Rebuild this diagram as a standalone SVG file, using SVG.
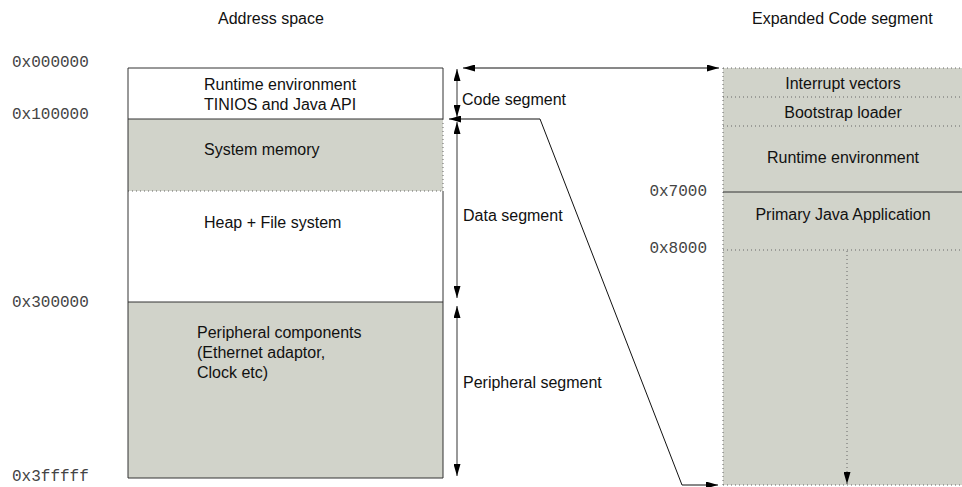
<svg xmlns="http://www.w3.org/2000/svg" width="962" height="487" viewBox="0 0 962 487">
  <style>
    .t { font-family: "Liberation Sans", Arial, sans-serif; font-size: 16px; fill: #111; }
    .m { font-family: "Liberation Mono", "Courier New", monospace; font-size: 16px; fill: #444; }
    .fill { fill: #d1d3ca; }
    .solid { stroke: #333; stroke-width: 1; fill: none; }
    .dot { stroke: #666; stroke-width: 1; stroke-dasharray: 1 3; fill: none; }
    .dim { stroke: #555; stroke-width: 1.2; fill: none; }
    .link { stroke: #111; stroke-width: 1; fill: none; }
  </style>
  <defs>
    <marker id="ah" viewBox="0 0 12 7" refX="12" refY="3.5" markerWidth="12" markerHeight="7" markerUnits="userSpaceOnUse" orient="auto-start-reverse">
      <path d="M0,0 L12,3.5 L0,7 Z" fill="#000"/>
    </marker>
  </defs>

  <!-- titles -->
  <text class="t" x="218" y="24">Address space</text>
  <text class="t" x="752" y="24">Expanded Code segment</text>

  <!-- address labels -->
  <g id="addresses">
    <text class="m" x="12" y="67">0x000000</text>
    <text class="m" x="12" y="119">0x100000</text>
    <text class="m" x="12" y="307">0x300000</text>
    <text class="m" x="12" y="481">0x3fffff</text>
    <text class="m" x="707" y="196" text-anchor="end">0x7000</text>
    <text class="m" x="707" y="253" text-anchor="end">0x8000</text>
  </g>

  <!-- address space column -->
  <g id="code-region">
    <rect x="128" y="68" width="315" height="51" fill="#fff"/>
    <text class="t" x="204" y="90">Runtime environment</text>
    <text class="t" x="204" y="110">TINIOS and Java API</text>
  </g>
  <g id="system-memory">
    <rect class="fill" x="128" y="119" width="315" height="72"/>
    <text class="t" x="204" y="155">System memory</text>
  </g>
  <g id="heap">
    <rect x="128" y="191" width="315" height="111" fill="#fff"/>
    <line class="dot" x1="128" y1="191" x2="443" y2="191"/>
    <text class="t" x="204" y="228">Heap + File system</text>
  </g>
  <g id="peripherals">
    <rect class="fill" x="128" y="302" width="315" height="176"/>
    <text class="t" x="197" y="338">Peripheral components</text>
    <text class="t" x="197" y="358">(Ethernet adaptor,</text>
    <text class="t" x="197" y="378">Clock etc)</text>
  </g>
  <g id="address-frame">
    <line class="solid" x1="128" y1="68" x2="443" y2="68"/>
    <line class="solid" x1="128" y1="68" x2="128" y2="478"/>
    <line class="solid" x1="128" y1="478" x2="443" y2="478"/>
    <line class="solid" x1="443" y1="68" x2="443" y2="119"/>
    <line class="dot" x1="443" y1="119" x2="443" y2="191"/>
    <line class="solid" x1="443" y1="191" x2="443" y2="478"/>
    <line class="solid" x1="128" y1="119" x2="443" y2="119"/>
    <line class="solid" x1="128" y1="302" x2="443" y2="302"/>
  </g>

  <!-- expanded code segment column -->
  <g id="expanded">
    <rect class="fill" x="723" y="68" width="239" height="417"/>
    <line class="dot" x1="723" y1="68" x2="962" y2="68"/>
    <line class="dot" x1="723" y1="68" x2="723" y2="485"/>
    <line class="dot" x1="723" y1="97" x2="962" y2="97"/>
    <line class="dot" x1="723" y1="126" x2="962" y2="126"/>
    <line class="solid" x1="723" y1="192" x2="962" y2="192" stroke="#111"/>
    <line class="dot" x1="723" y1="250" x2="962" y2="250"/>
    <line class="dot" x1="723" y1="485" x2="962" y2="485"/>
    <text class="t" x="843" y="89" text-anchor="middle">Interrupt vectors</text>
    <text class="t" x="843" y="118" text-anchor="middle">Bootstrap loader</text>
    <text class="t" x="843" y="163" text-anchor="middle">Runtime environment</text>
    <text class="t" x="843" y="220" text-anchor="middle">Primary Java Application</text>
  </g>

  <!-- connectors -->
  <g id="connectors">
    <line class="dim" x1="457" y1="69" x2="457" y2="117" marker-start="url(#ah)" marker-end="url(#ah)"/>
    <line class="dim" x1="457" y1="122" x2="457" y2="298" marker-start="url(#ah)" marker-end="url(#ah)"/>
    <line class="dim" x1="457" y1="306" x2="457" y2="476" marker-start="url(#ah)" marker-end="url(#ah)"/>
    <line class="link" x1="463" y1="68" x2="719" y2="68" marker-start="url(#ah)" marker-end="url(#ah)"/>
    <polyline class="link" points="540,119 682,485 718,485" marker-end="url(#ah)"/>
    <line class="link" x1="540" y1="119" x2="449" y2="119" marker-end="url(#ah)"/>
    <line class="dot" x1="847" y1="251" x2="847" y2="484" stroke="#333" marker-end="url(#ah)"/>
    <text class="t" x="462" y="105">Code segment</text>
    <text class="t" x="463" y="221">Data segment</text>
    <text class="t" x="463" y="388">Peripheral segment</text>
  </g>
</svg>
